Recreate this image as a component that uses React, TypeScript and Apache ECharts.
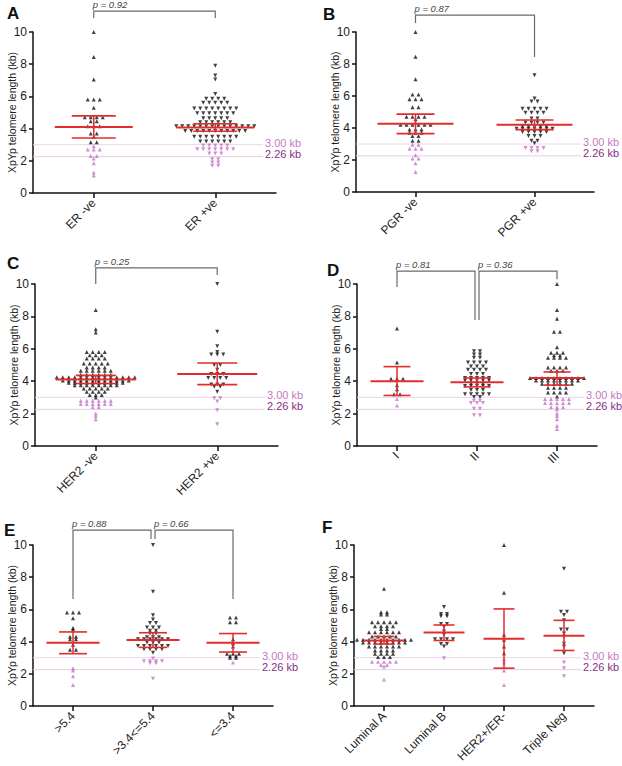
import React, { useEffect, useRef } from 'react';
import * as echarts from 'echarts';

const FONT = '"Liberation Sans", Arial, Helvetica, sans-serif';
const RED = '#e42c2c';
const BLACK = '#111111';
const PINK = '#c474c6';
const Y_TITLE = 'XpYp telomere length (kb)';

// ---------- Panel A ----------
const catsA = ['ER -ve', 'ER +ve'];
const erNeg = [10.0, 8.45, 7.05, 5.8, 5.8, 5.8, 5.3, 4.7, 4.7, 4.7, 4.7, 4.45, 4.45, 4.15, 4.15, 4.15, 3.7, 3.7, 3.5, 3.15, 3.15,
  2.9, 2.7, 2.7, 2.7, 2.3, 2.3, 2.15, 1.85, 1.27, 1.08];
const erPos = [7.9, 7.3, 7.05, 6.15, 5.85, 5.85, 5.85, 5.85, 5.6, 5.6, 5.6, 5.6, 5.6,
  5.25, 5.25, 5.25, 5.25, 5.25, 5.25, 5.25, 5.25, 4.95, 4.95, 4.95, 4.95, 4.95, 4.95, 4.95,
  4.65, 4.65, 4.65, 4.65, 4.65, 4.4, 4.4, 4.4, 4.4, 4.4, 4.4,
  4.15, 4.15, 4.15, 4.15, 4.15, 4.15, 4.15, 4.15, 4.15, 4.15, 4.15, 4.15, 4.15, 4.15,
  3.85, 3.85, 3.85, 3.85, 3.85, 3.85, 3.85, 3.85, 3.85, 3.85, 3.85,
  3.5, 3.5, 3.5, 3.5, 3.5, 3.5, 3.5, 3.5, 3.2, 3.2, 3.2, 3.2, 3.2, 3.2,
  2.95, 2.95, 2.95, 2.95, 2.95, 2.72, 2.72, 2.72, 2.72, 2.72, 2.72, 2.72,
  2.45, 2.45, 2.45, 2.1, 2.1, 1.9, 1.9, 1.7, 1.7];
const meanA = [4.1, 4.07];
const loA = [3.42, 3.84];
const hiA = [4.79, 4.3];
const bracketsA = [[0, 1, 11.3, 10.87, 10.87]];
const pA = ['p = 0.92'];

// ---------- Panel B ----------
const catsB = ['PGR -ve', 'PGR +ve'];
const pgrNeg = [10.0, 8.45, 7.05, 6.1, 6.1, 5.8, 5.8, 5.8, 5.3, 5.3, 4.7, 4.7, 4.7, 4.7, 4.55,
  4.2, 4.2, 4.2, 4.2, 4.2, 4.2, 3.9, 3.9, 3.9, 3.7, 3.7, 3.7, 3.5, 3.5, 3.2, 3.2,
  2.95, 2.95, 2.7, 2.7, 2.7, 2.3, 2.1, 2.1, 1.8, 1.25];
const pgrPos = [7.3, 5.85, 5.65, 5.65, 5.2, 5.2, 5.2, 5.2, 5.2, 4.95, 4.95, 4.95, 4.95, 4.6, 4.6,
  4.35, 4.35, 4.35, 4.35, 4.1, 4.1, 4.1, 4.1, 4.1, 3.95, 3.95, 3.95, 3.95, 3.95, 3.95, 3.95,
  3.75, 3.75, 3.75, 3.75, 3.75, 3.5, 3.5, 3.5, 3.2, 3.2, 3.05, 2.75, 2.75, 2.75, 2.75, 2.55, 2.55];
const meanB = [4.27, 4.2];
const loB = [3.65, 3.9];
const hiB = [4.87, 4.5];
const bracketsB = [[0, 1, 11.06, 10.56, 8.44]];
const pB = ['p = 0.87'];

// ---------- Panel C ----------
const catsC = ['HER2 -ve', 'HER2 +ve'];
const her2Neg = [8.4, 7.2, 7.0, 5.8, 5.8, 5.8, 5.8, 5.6, 5.6, 5.6, 5.4, 5.4, 5.4, 5.4,
  5.1, 5.1, 5.1, 5.1, 5.1, 4.85, 4.85, 4.85, 4.85, 4.65, 4.65, 4.65, 4.65, 4.65, 4.65,
  4.4, 4.4, 4.4, 4.4, 4.4, 4.4,
  4.25, 4.25, 4.25, 4.25, 4.25, 4.25, 4.25, 4.25, 4.25, 4.25, 4.25, 4.25, 4.25, 4.25,
  4.05, 4.05, 4.05, 4.05, 4.05, 4.05, 4.05, 4.05, 4.05, 4.05, 4.05, 4.05,
  3.9, 3.9, 3.9, 3.9, 3.9, 3.9, 3.9, 3.9, 3.9, 3.9, 3.75, 3.75, 3.75, 3.75, 3.75, 3.75, 3.75, 3.75,
  3.55, 3.55, 3.55, 3.55, 3.55, 3.35, 3.35, 3.35, 3.35, 3.15, 3.15, 3.15, 3.0,
  2.8, 2.8, 2.8, 2.8, 2.8, 2.8, 2.6, 2.6, 2.6, 2.6, 2.6, 2.6, 2.4, 2.4, 2.0, 1.85, 1.65];
const her2Pos = [10.0, 7.05, 6.15, 5.8, 5.65, 5.65, 5.65, 5.0, 5.0, 4.7, 4.45, 4.45, 4.45,
  4.2, 4.2, 4.2, 4.2, 3.8, 3.8, 3.8, 3.65, 3.65, 3.35, 2.95, 2.95, 2.75, 2.2, 1.35];
const meanC = [4.1, 4.45];
const loC = [3.86, 3.79];
const hiC = [4.36, 5.12];
const bracketsC = [[0, 1, 11.0, 10.0, 10.55]];
const pC = ['p = 0.25'];

// ---------- Panel D ----------
const catsD = ['I', 'II', 'III'];
const stageI = [7.25, 5.15, 4.15, 4.15, 4.15, 3.75, 3.5, 3.2, 3.2, 2.9, 2.5];
const stageII = [5.85, 5.85, 5.65, 5.65, 5.45, 5.45, 5.15, 5.15, 5.15, 5.15, 4.9, 4.9, 4.9,
  4.7, 4.7, 4.7, 4.7, 4.45, 4.45, 4.45, 4.2, 4.2, 4.2, 4.2, 4.2, 4.05, 4.05, 4.05, 4.05, 4.05,
  3.85, 3.85, 3.85, 3.7, 3.7, 3.7, 3.7, 3.7, 3.45, 3.45, 3.45, 3.2, 3.2, 3.2, 3.2, 3.2, 3.02, 3.02,
  2.8, 2.8, 2.65, 2.65, 2.65, 2.3, 2.3, 1.9, 1.9];
const stageIII = [10.0, 8.4, 7.85, 7.05, 7.05, 6.1, 5.75, 5.75, 5.75, 5.6, 5.6, 5.45, 5.45, 5.45, 5.45,
  4.85, 4.85, 4.85, 4.85, 4.65, 4.65, 4.65,
  4.2, 4.2, 4.2, 4.2, 4.2, 4.2, 4.2, 4.2, 4.2, 4.2, 4.05, 4.05, 4.05, 4.05, 4.05, 4.05, 4.05, 4.05,
  3.85, 3.85, 3.85, 3.85, 3.85, 3.85, 3.6, 3.6, 3.6, 3.6, 3.3, 3.3, 3.3, 3.3, 3.05,
  2.9, 2.9, 2.9, 2.9, 2.9, 2.65, 2.65, 2.65, 2.65, 2.65, 2.4, 2.4, 2.4, 2.25, 2.0, 1.85, 1.65, 1.25, 1.05];
const meanD = [4.0, 3.93, 4.2];
const loD = [3.12, 3.65, 3.76];
const hiD = [4.9, 4.2, 4.57];
const bracketsD = [[0, 1, 10.8, 9.81, 7.78], [1, 2, 10.8, 7.78, 10.3]];
const pD = ['p = 0.81', 'p = 0.36'];

// ---------- Panel E ----------
const catsE = ['>5.4', '>3.4<=5.4', '<=3.4'];
const grpHigh = [5.8, 5.8, 5.8, 5.45, 4.85, 4.75, 4.3, 4.3, 4.15, 4.15, 3.8, 3.5, 3.5, 2.35, 2.2, 1.85, 1.3];
const grpMid = [10.0, 7.1, 5.63, 5.38, 5.15, 5.15, 4.88, 4.88, 4.88, 4.68, 4.68, 4.5, 4.5,
  4.27, 4.27, 4.27, 4.15, 4.15, 4.15, 4.15, 4.15, 4.15, 3.95, 3.95, 3.95,
  3.73, 3.73, 3.73, 3.73, 3.73, 3.73, 3.52, 3.52, 3.52, 3.52, 3.3,
  2.95, 2.78, 2.78, 2.78, 2.78, 2.66, 2.66, 1.7];
const grpLow = [5.5, 5.5, 5.2, 5.2, 4.15, 3.9, 3.7, 3.25, 3.25, 3.25, 3.12, 3.12, 3.0, 3.0, 2.7];
const meanE = [3.93, 4.1, 3.93];
const loE = [3.25, 3.64, 3.35];
const hiE = [4.6, 4.55, 4.5];
const bracketsE = [[0, 1, 10.93, 6.65, 10.37], [1, 2, 10.93, 10.37, 6.65]];
const pE = ['p = 0.88', 'p = 0.66'];

// ---------- Panel F ----------
const catsF = ['Luminal A', 'Luminal B', 'HER2+/ER-', 'Triple Neg'];
const lumA = [7.28, 5.82, 5.82, 5.68, 5.68, 5.2, 5.2, 5.2, 5.2, 5.2, 4.95, 4.95, 4.95, 4.95, 4.78, 4.78,
  4.58, 4.58, 4.58, 4.58, 4.58, 4.58, 4.32, 4.32, 4.32, 4.32, 4.32,
  4.12, 4.12, 4.12, 4.12, 4.12, 4.12, 4.12, 4.12, 4.12, 4.12, 3.95, 3.95, 3.95, 3.95, 3.95, 3.95, 3.95, 3.95,
  3.7, 3.7, 3.7, 3.7, 3.7, 3.7, 3.45, 3.45, 3.45, 3.45, 3.25, 3.25, 3.25, 3.25, 3.05, 3.05, 3.05,
  2.75, 2.75, 2.75, 2.75, 2.75, 2.55, 2.55, 2.45, 1.65];
const lumB = [6.15, 5.72, 5.72, 5.57, 5.57, 5.1, 5.1, 4.9, 4.63, 4.43, 4.15, 4.15, 4.15, 4.15, 3.85, 3.85, 3.7, 2.97];
const her2ErNeg = [10.0, 7.03, 4.43, 4.12, 3.7, 3.28, 2.9, 2.7, 2.2, 1.3];
const tripleNeg = [8.52, 5.85, 5.85, 5.65, 5.32, 4.75, 4.75, 4.5, 4.3, 3.87, 3.7, 3.28, 2.7, 2.35, 1.85];
const meanF = [4.07, 4.57, 4.18, 4.37];
const loF = [3.85, 4.07, 2.35, 3.45];
const hiF = [4.32, 5.03, 6.03, 5.32];

// reference thresholds
const refValues = [3.0, 2.26];
const refLabels = ['3.00 kb', '2.26 kb'];
const refLineColors = ['#ecd6ec', '#ddd2de'];
const refTextColors = ['#c47ac4', '#862f86'];
const PINK_THRESHOLD = 3.0;

// ---------- layout (pixels) ----------
const GRIDS = [
  { left: 33, top: 32, width: 243, height: 161 },
  { left: 356, top: 32, width: 238, height: 160 },
  { left: 35, top: 284, width: 243, height: 162 },
  { left: 357, top: 284, width: 240, height: 162 },
  { left: 33, top: 545, width: 240, height: 161 },
  { left: 354, top: 545, width: 240, height: 161 },
];
const LETTER_POS = [[7, 5], [323, 6], [7, 255], [327, 262], [4, 522], [322, 519]];
const MEAN_W = [78, 76, 80, 53, 53, 41];
const CI_W = [44, 38, 40, 27, 28, 21];
const SWARM_SPACING = 6;
const BRACKET_NUDGE = [[[0, 0]], [[0, 0]], [[0, 0]], [[0, -2], [2, 0]], [[0, -2], [2, 0]], []];

const PANELS = [
  { letter: 'A', cats: catsA, groups: [erNeg, erPos], down: [false, true], mean: meanA, lo: loA, hi: hiA, brackets: bracketsA, pTexts: pA },
  { letter: 'B', cats: catsB, groups: [pgrNeg, pgrPos], down: [false, true], mean: meanB, lo: loB, hi: hiB, brackets: bracketsB, pTexts: pB },
  { letter: 'C', cats: catsC, groups: [her2Neg, her2Pos], down: [false, true], mean: meanC, lo: loC, hi: hiC, brackets: bracketsC, pTexts: pC },
  { letter: 'D', cats: catsD, groups: [stageI, stageII, stageIII], down: [false, true, false], mean: meanD, lo: loD, hi: hiD, brackets: bracketsD, pTexts: pD },
  { letter: 'E', cats: catsE, groups: [grpHigh, grpMid, grpLow], down: [false, true, false], mean: meanE, lo: loE, hi: hiE, brackets: bracketsE, pTexts: pE },
  { letter: 'F', cats: catsF, groups: [lumA, lumB, her2ErNeg, tripleNeg], down: [false, true, false, true], mean: meanF, lo: loF, hi: hiF, brackets: [] as number[][], pTexts: [] as string[] },
];

// row-based swarm: points of (nearly) equal value share a row, spread symmetrically
function swarmOffsets(values: number[], spacing: number): number[] {
  const idx = values.map((_, i) => i).sort((a, b) => values[b] - values[a]);
  const offs = new Array(values.length).fill(0);
  let i = 0;
  while (i < idx.length) {
    const v0 = values[idx[i]];
    let j = i;
    while (j < idx.length && v0 - values[idx[j]] < 0.095) j++;
    const n = j - i;
    for (let k = 0; k < n; k++) offs[idx[i + k]] = (k - (n - 1) / 2) * spacing;
    i = j;
  }
  return offs;
}

function buildOption() {
  const grid: any[] = [];
  const xAxis: any[] = [];
  const yAxis: any[] = [];
  const series: any[] = [];
  const graphic: any[] = [];
  const axisLineStyle = { color: BLACK, width: 1.5 };

  PANELS.forEach((p, k) => {
    const g = GRIDS[k];
    const n = p.cats.length;
    const band = g.width / n;
    grid.push({ ...g, containLabel: false, outerBoundsMode: 'none' });
    xAxis.push({
      type: 'category', gridIndex: k, data: p.cats, boundaryGap: true, position: 'bottom',
      axisLine: { show: true, onZero: false, lineStyle: axisLineStyle },
      axisTick: { show: true, alignWithLabel: true, length: 5, lineStyle: axisLineStyle },
      axisLabel: { rotate: 45, interval: 0, fontSize: 12, color: '#222', fontFamily: FONT, margin: 8 },
      splitLine: { show: false },
    });
    xAxis.push({
      type: 'value', gridIndex: k, min: -0.5, max: n - 0.5, show: false, position: 'bottom',
      axisLine: { show: false, onZero: false }, splitLine: { show: false },
    });
    yAxis.push({
      type: 'value', gridIndex: k, min: 0, max: 10, interval: 2, position: 'left',
      name: Y_TITLE, nameLocation: 'middle', nameGap: 16, nameMoveOverlap: false,
      nameTextStyle: { fontSize: 10.5, color: '#222', fontFamily: FONT },
      axisLine: { show: true, onZero: false, lineStyle: axisLineStyle },
      axisTick: { show: true, length: 4, lineStyle: axisLineStyle },
      axisLabel: { fontSize: 12, color: '#222', fontFamily: FONT, margin: 6 },
      splitLine: { show: false },
    });
    const xi = 2 * k + 1;

    // reference lines + labels
    series.push({
      type: 'custom', xAxisIndex: xi, yAxisIndex: k, z: 1, silent: true, clip: false,
      data: refValues.map((v) => [0, v]),
      renderItem: (params: any, api: any) => {
        const d = params.dataIndex;
        const v = api.value(1);
        const a = api.coord([-0.5, v]);
        const b = api.coord([n - 0.5, v]);
        const endX = b[0] - 13;
        return {
          type: 'group',
          children: [
            { type: 'line', shape: { x1: a[0], y1: a[1], x2: endX, y2: a[1] }, style: { stroke: refLineColors[d], lineWidth: 1 } },
            {
              type: 'text', x: b[0] - 11, y: a[1] - (d === 0 ? 2 : 3),
              style: { text: refLabels[d], fill: refTextColors[d], fontSize: 11, fontFamily: FONT, align: 'left', verticalAlign: 'middle', textAlign: 'left', textVerticalAlign: 'middle' },
            },
          ],
        };
      },
    });

    // points
    const pts: any[] = [];
    p.groups.forEach((vals, gi) => {
      const offs = swarmOffsets(vals, SWARM_SPACING);
      vals.forEach((v, j) => {
        pts.push({
          value: [gi + offs[j] / band, v],
          symbolRotate: p.down[gi] ? 180 : 0,
          itemStyle: { color: v < PINK_THRESHOLD ? PINK : BLACK },
        });
      });
    });
    series.push({
      type: 'scatter', xAxisIndex: xi, yAxisIndex: k, z: 2, silent: true,
      symbol: 'triangle', symbolSize: 4, data: pts,
    });

    // mean and 95% CI bars
    const mw = MEAN_W[k];
    const cw = CI_W[k];
    series.push({
      type: 'custom', xAxisIndex: xi, yAxisIndex: k, z: 3, silent: true, clip: false,
      data: p.mean.map((m, i) => [i, m, p.lo[i], p.hi[i]]),
      renderItem: (_params: any, api: any) => {
        const i = api.value(0);
        const pm = api.coord([i, api.value(1)]);
        const pl = api.coord([i, api.value(2)]);
        const ph = api.coord([i, api.value(3)]);
        return {
          type: 'group',
          children: [
            { type: 'line', shape: { x1: pm[0], y1: pl[1], x2: pm[0], y2: ph[1] }, style: { stroke: RED, lineWidth: 1.5 } },
            { type: 'line', shape: { x1: pm[0] - mw / 2, y1: pm[1], x2: pm[0] + mw / 2, y2: pm[1] }, style: { stroke: RED, lineWidth: 2 } },
            { type: 'line', shape: { x1: pm[0] - cw / 2, y1: pl[1], x2: pm[0] + cw / 2, y2: pl[1] }, style: { stroke: RED, lineWidth: 1.6 } },
            { type: 'line', shape: { x1: pm[0] - cw / 2, y1: ph[1], x2: pm[0] + cw / 2, y2: ph[1] }, style: { stroke: RED, lineWidth: 1.6 } },
          ],
        };
      },
    });

    // p-value brackets
    if (p.brackets.length) {
      const nudges = BRACKET_NUDGE[k];
      series.push({
        type: 'custom', xAxisIndex: xi, yAxisIndex: k, z: 4, silent: true, clip: false,
        data: p.brackets,
        renderItem: (params: any, api: any) => {
          const d = params.dataIndex;
          const nd = nudges[d] || [0, 0];
          const top = api.coord([api.value(0), api.value(2)]);
          const lb = api.coord([api.value(0), api.value(3)]);
          const rt = api.coord([api.value(1), api.value(2)]);
          const rb = api.coord([api.value(1), api.value(4)]);
          const x1 = top[0] + nd[0];
          const x2 = rt[0] + nd[1];
          return {
            type: 'group',
            children: [
              { type: 'polyline', shape: { points: [[x1, lb[1]], [x1, top[1]], [x2, top[1]], [x2, rb[1]]] }, style: { stroke: '#6a6a6a', lineWidth: 1.2, fill: 'none' } },
              {
                type: 'text', x: x1 - 1, y: top[1] - 1.5,
                style: { text: p.pTexts[d], fill: '#444', fontSize: 9.5, fontStyle: 'italic', fontFamily: FONT, align: 'left', verticalAlign: 'bottom', textAlign: 'left', textVerticalAlign: 'bottom' },
              },
            ],
          };
        },
      });
    }

    graphic.push({
      type: 'text', left: LETTER_POS[k][0], top: LETTER_POS[k][1],
      style: { text: p.letter, fill: '#111', fontSize: 17, fontWeight: 'bold', fontFamily: FONT },
    });
  });

  return {
    animation: false,
    backgroundColor: '#ffffff',
    textStyle: { fontFamily: FONT },
    grid, xAxis, yAxis, series, graphic,
  };
}

export default function App() {
  const ref = useRef<HTMLDivElement>(null);
  useEffect(() => {
    if (!ref.current) return;
    const chart = echarts.init(ref.current, null, { renderer: 'svg' });
    chart.setOption(buildOption() as any);
    return () => chart.dispose();
  }, []);
  return (
    <div
      ref={ref}
      style={{ position: 'fixed', left: 0, top: 0, width: 622, height: 766, background: '#fff' }}
    />
  );
}
